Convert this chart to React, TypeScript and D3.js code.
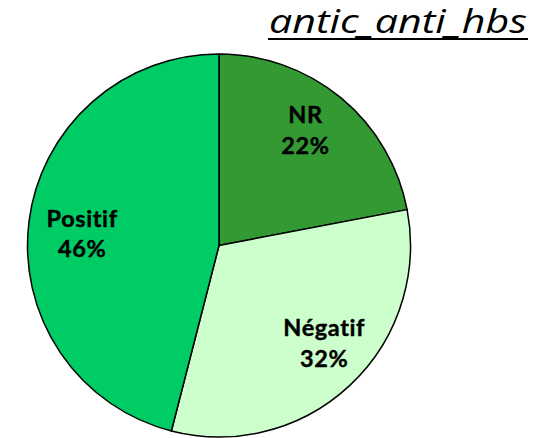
import React from "react";
import * as d3 from "d3";

const categories = ["NR", "Négatif", "Positif"];
const values = [22, 32, 46];
const colors = ["#339933", "#CCFFCC", "#00CC66"];
const title = "antic_anti_hbs";

const W = 548;
const H = 438;
const cx = 219;
const cy = 245.5;
const R = 191.5;
const labelR = 142;
// small label nudges (px) to mimic the original label placement
const nudgeX = [-4, 8, 4];
const nudgeY = [0, 0, 12];

export default function App() {
  const pie = d3.pie<number>().sort(null).value((d) => d)(values);
  const arc = d3.arc<d3.PieArcDatum<number>>().innerRadius(0).outerRadius(R);
  const labelArc = d3
    .arc<d3.PieArcDatum<number>>()
    .innerRadius(labelR)
    .outerRadius(labelR);
  const total = d3.sum(values);
  const pct = (v: number) => `${Math.round((v / total) * 100)}%`;

  return (
    <svg
      width={W}
      height={H}
      style={{ position: "fixed", left: 0, top: 0, background: "#fff" }}
    >
      <g transform={`translate(${cx},${cy})`}>
        {pie.map((p, i) => (
          <path
            key={i}
            d={arc(p) || ""}
            fill={colors[i]}
            stroke="#000"
            strokeWidth={1.5}
            strokeLinejoin="round"
          />
        ))}
        {pie.map((p, i) => {
          const [x0, y0] = labelArc.centroid(p);
          const x = x0 + nudgeX[i];
          const y = y0 + nudgeY[i];
          return (
            <text
              key={"l" + i}
              x={x}
              y={y}
              textAnchor="middle"
              fontFamily="Lato"
              fontWeight="bold"
              fontSize={23.5}
              letterSpacing={0.6}
              fill="#000"
              stroke="#000"
              strokeWidth={0.4}
            >
              <tspan x={x} dy={-13}>
                {categories[i]}
              </tspan>
              <tspan x={x} dy={30.5}>
                {pct(values[i])}
              </tspan>
            </text>
          );
        })}
      </g>
      <text
        x={527}
        y={33}
        textAnchor="end"
        fontFamily="Open Sans"
        fontStyle="italic"
        fontSize={32}
        fill="#000"
        textLength={258}
        lengthAdjust="spacingAndGlyphs"
      >
        {title}
      </text>
      <line x1={268} x2={528} y1={39} y2={39} stroke="#000" strokeWidth={2} />
    </svg>
  );
}
